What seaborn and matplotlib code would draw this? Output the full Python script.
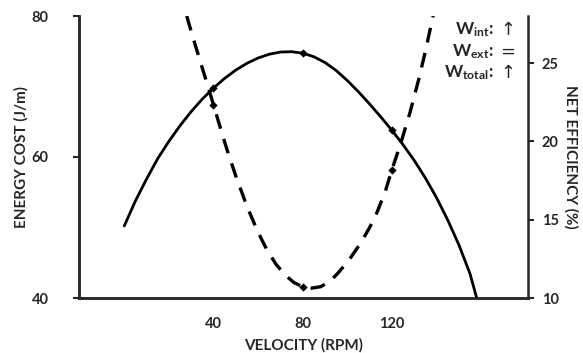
import matplotlib
matplotlib.use("Agg")
import matplotlib.pyplot as plt
import seaborn as sns
import pandas as pd

# values
eff_rpm = [0, 5, 10, 15, 20, 25, 30, 35, 40, 45, 50, 55, 60, 65, 70, 75, 80, 85, 90,
           95, 100, 105, 110, 115, 120, 125, 130, 135, 140, 145, 150, 155, 158]
eff_pct = [14.6, 16.2, 17.6, 18.9, 20.0, 21.0, 21.9, 22.7, 23.4, 24.02, 24.55, 24.98, 25.32,
           25.56, 25.7, 25.72, 25.63, 25.4, 25.03, 24.52, 23.88, 23.16, 22.38, 21.56, 20.7,
           19.78, 18.78, 17.66, 16.4, 14.98, 13.4, 11.55, 10.0]

cost_rpm = [28, 30, 32, 35, 38, 40, 43, 46, 50, 55, 60, 64, 68, 72, 76, 80, 84, 88,
            92, 96, 101, 106, 110, 113, 117, 120, 124, 128, 132, 135, 137, 138.5]
cost_jm = [80, 77.8, 75.7, 72.6, 69.5, 67.4, 64.2, 61.1, 57.3, 53.0, 49.3, 46.8, 44.8,
           43.3, 42.2, 41.6, 41.4, 41.6, 42.3, 43.6, 45.5, 47.8, 50.0, 51.9, 55.1, 58.2,
           62.0, 66.2, 71.0, 75.0, 77.9, 80]

marker_rpm = [40, 80, 120]
x_ticks = [40, 80, 120]
left_ticks = [40, 60, 80]
right_ticks = [10, 15, 20, 25]

work_labels = ["W$_\\mathrm{int}$:", "W$_\\mathrm{ext}$:", "W$_\\mathrm{total}$:"]
work_signs = ["\u2191", "=", "\u2191"]

sns.set_style("ticks")
plt.rcParams['font.family'] = ['Lato', 'DejaVu Sans']
plt.rcParams['font.weight'] = 'bold'
plt.rcParams['axes.labelweight'] = 'bold'
plt.rcParams['mathtext.fontset'] = 'custom'
plt.rcParams['mathtext.rm'] = 'Lato:bold'
plt.rcParams['mathtext.it'] = 'Lato:bold'
plt.rcParams['mathtext.bf'] = 'Lato:bold'

cost_df = pd.DataFrame({"rpm": cost_rpm, "cost": cost_jm})
eff_df = pd.DataFrame({"rpm": eff_rpm, "eff": eff_pct})
cost_mk = cost_df[cost_df["rpm"].isin(marker_rpm)]
eff_mk = eff_df[eff_df["rpm"].isin(marker_rpm)]

fig = plt.figure(figsize=(5.83, 3.53), dpi=100)
ax = fig.add_axes([79 / 583, 1 - 298 / 353, (528 - 79) / 583, (298 - 16) / 353])
ax2 = ax.twinx()

# energy cost, dashed, left axis
sns.lineplot(data=cost_df, x="rpm", y="cost", ax=ax, color="black", lw=2.4,
             linestyle=(0, (4.5, 3.2)), sort=False)
sns.scatterplot(data=cost_mk, x="rpm", y="cost", ax=ax, color="black", marker="D", s=18, linewidth=0)

# net efficiency, solid, right axis
sns.lineplot(data=eff_df, x="rpm", y="eff", ax=ax2, color="black", lw=2.0, sort=False)
sns.scatterplot(data=eff_mk, x="rpm", y="eff", ax=ax2, color="black", marker="D", s=18, linewidth=0)

ax.set_xlim(-20.3, 181)
ax.set_ylim(40, 80)
ax2.set_ylim(10, 28)

ax.set_xticks(x_ticks)
ax.set_yticks(left_ticks)
ax2.set_yticks(right_ticks)
ax.tick_params(axis="x", length=0, labelsize=10.5, pad=14)
ax.tick_params(axis="y", length=4, width=1.5, labelsize=10.5, pad=18)
ax2.tick_params(axis="y", length=4, width=1.5, labelsize=10.5, pad=6)

for a in (ax, ax2):
    for s in a.spines.values():
        s.set_linewidth(1.8)
    a.spines["top"].set_visible(False)
ax.spines["right"].set_visible(False)

ax.set_xlabel("VELOCITY (RPM)", fontsize=11, labelpad=5)
ax.set_ylabel("ENERGY COST (J/m)", fontsize=11, labelpad=2)
ax2.set_ylabel("NET EFFICIENCY (%)", fontsize=11, rotation=270, labelpad=14)

# work annotation, top right
for i, (lab, sg) in enumerate(zip(work_labels, work_signs)):
    y = 1 - (30 + i * 21.5) / 353
    fig.text(494 / 583, y, lab, ha="right", va="center", fontsize=12.5)
    fig.text(508 / 583, y, sg, ha="center", va="center", fontsize=13,
             family=['DejaVu Sans'], fontweight='normal')

fig.savefig("out.png", dpi=100)
